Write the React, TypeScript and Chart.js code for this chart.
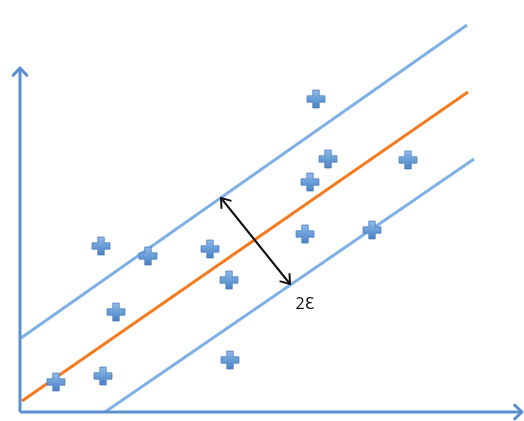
import React, { useEffect, useRef } from "react";
import { Chart, registerables } from "chart.js";

Chart.register(...registerables);

// Data points (x, y)
const pointsX = [59.2, 61.6, 77.6, 58, 16.2, 25.6, 38, 57, 70.4, 41.8, 19.2, 42, 7.2, 16.6];
const pointsY = [62.6, 50.6, 50.4, 46, 33.2, 31.2, 32.6, 35.6, 36.4, 26.4, 20, 10.4, 6, 7.2];

// Regression line and epsilon-tube boundaries (start, end)
const regX = [0.4, 89.6];
const regY = [2.2, 64];
const upperX = [0.2, 89.4];
const upperY = [14.8, 77.4];
const lowerX = [17, 90.8];
const lowerY = [0, 50.6];

// Double arrow showing tube width and its label
const widthArrowX = [40.2, 54];
const widthArrowY = [42.8, 25.6];
const labelText = "2Ɛ";
const labelPos = [57, 21.6];

// Axes (origin and arrow tips)
const axisOrigin = [0, 0];
const xAxisEnd = [100.4, 0];
const yAxisEnd = [0, 68.8];

function makePlus(): HTMLCanvasElement {
  const c = document.createElement("canvas");
  const s = 20;
  c.width = s;
  c.height = s;
  const ctx = c.getContext("2d")!;
  const a = 6.5;
  const m = s / 2;
  const h = a / 2;
  const e = 9;
  ctx.beginPath();
  ctx.moveTo(m - h, m - e);
  ctx.lineTo(m + h, m - e);
  ctx.lineTo(m + h, m - h);
  ctx.lineTo(m + e, m - h);
  ctx.lineTo(m + e, m + h);
  ctx.lineTo(m + h, m + h);
  ctx.lineTo(m + h, m + e);
  ctx.lineTo(m - h, m + e);
  ctx.lineTo(m - h, m + h);
  ctx.lineTo(m - e, m + h);
  ctx.lineTo(m - e, m - h);
  ctx.lineTo(m - h, m - h);
  ctx.closePath();
  const g = ctx.createLinearGradient(0, m - e, 0, m + e);
  g.addColorStop(0, "#8fbbe8");
  g.addColorStop(0.5, "#6a9ed8");
  g.addColorStop(1, "#4b82c4");
  ctx.fillStyle = g;
  ctx.fill();
  ctx.strokeStyle = "rgba(70,120,185,0.7)";
  ctx.lineWidth = 1;
  ctx.stroke();
  return c;
}

function arrowHead(
  ctx: CanvasRenderingContext2D,
  fx: number,
  fy: number,
  tx: number,
  ty: number,
  len: number,
  ang: number
) {
  const t = Math.atan2(ty - fy, tx - fx);
  ctx.beginPath();
  ctx.moveTo(tx - len * Math.cos(t - ang), ty - len * Math.sin(t - ang));
  ctx.lineTo(tx, ty);
  ctx.lineTo(tx - len * Math.cos(t + ang), ty - len * Math.sin(t + ang));
  ctx.stroke();
}

const overlayPlugin = {
  id: "overlay",
  afterDatasetsDraw(chart: any) {
    const ctx: CanvasRenderingContext2D = chart.ctx;
    const xs = chart.scales.x;
    const ys = chart.scales.y;
    const px = (v: number) => xs.getPixelForValue(v);
    const py = (v: number) => ys.getPixelForValue(v);
    ctx.save();
    // axes
    ctx.strokeStyle = "#5b8fcf";
    ctx.lineWidth = 3;
    ctx.lineCap = "butt";
    ctx.lineJoin = "round";
    const ox = px(axisOrigin[0]);
    const oy = py(axisOrigin[1]);
    ctx.beginPath();
    ctx.moveTo(ox, oy);
    ctx.lineTo(px(xAxisEnd[0]), py(xAxisEnd[1]));
    ctx.moveTo(ox, oy);
    ctx.lineTo(px(yAxisEnd[0]), py(yAxisEnd[1]));
    ctx.stroke();
    ctx.lineCap = "round";
    arrowHead(ctx, ox, oy, px(xAxisEnd[0]), py(xAxisEnd[1]), 10, Math.PI / 4.2);
    arrowHead(ctx, ox, oy, px(yAxisEnd[0]), py(yAxisEnd[1]), 10, Math.PI / 4.2);

    // width arrow
    const ax1 = px(widthArrowX[0]);
    const ay1 = py(widthArrowY[0]);
    const ax2 = px(widthArrowX[1]);
    const ay2 = py(widthArrowY[1]);
    ctx.strokeStyle = "#111111";
    ctx.lineWidth = 2;
    ctx.lineCap = "round";
    ctx.beginPath();
    ctx.moveTo(ax1, ay1);
    ctx.lineTo(ax2, ay2);
    ctx.stroke();
    arrowHead(ctx, ax2, ay2, ax1, ay1, 10, Math.PI / 5);
    arrowHead(ctx, ax1, ay1, ax2, ay2, 10, Math.PI / 5);

    // label
    ctx.fillStyle = "#111111";
    ctx.font = "16px 'Open Sans', 'DejaVu Sans', sans-serif";
    ctx.textAlign = "center";
    ctx.textBaseline = "middle";
    ctx.fillText(labelText, px(labelPos[0]), py(labelPos[1]));
    ctx.restore();
  },
};

export default function App() {
  const ref = useRef<HTMLCanvasElement | null>(null);
  useEffect(() => {
    if (!ref.current) return;
    const plus = makePlus();
    const pts = pointsX.map((x, i) => ({ x, y: pointsY[i] }));
    const seg = (xs: number[], ys: number[]) => xs.map((x, i) => ({ x, y: ys[i] }));
    const chart = new Chart(ref.current, {
      type: "scatter",
      data: {
        datasets: [
          {
            label: "data",
            data: pts,
            pointStyle: plus as any,
            pointRadius: 9,
            showLine: false,
            order: 0,
          },
          {
            label: "regression",
            data: seg(regX, regY),
            showLine: true,
            borderColor: "#f47b20",
            borderWidth: 3,
            pointRadius: 0,
            order: 1,
          },
          {
            label: "upper",
            data: seg(upperX, upperY),
            showLine: true,
            borderColor: "#7fb0e6",
            borderWidth: 3,
            pointRadius: 0,
            order: 2,
          },
          {
            label: "lower",
            data: seg(lowerX, lowerY),
            showLine: true,
            borderColor: "#7fb0e6",
            borderWidth: 3,
            pointRadius: 0,
            order: 3,
          },
        ],
      },
      options: {
        animation: false,
        responsive: true,
        maintainAspectRatio: false,
        layout: { padding: 0, autoPadding: false },
        plugins: {
          legend: { display: false },
          tooltip: { enabled: false },
        },
        scales: {
          x: { type: "linear", display: false, min: -4, max: 100.8 },
          y: { type: "linear", display: false, min: -1.8, max: 82.4 },
        },
      },
      plugins: [overlayPlugin],
    });
    return () => chart.destroy();
  }, []);
  return (
    <div style={{ position: "fixed", left: 0, top: 0, width: 524, height: 421, background: "#ffffff" }}>
      <canvas ref={ref} />
    </div>
  );
}
